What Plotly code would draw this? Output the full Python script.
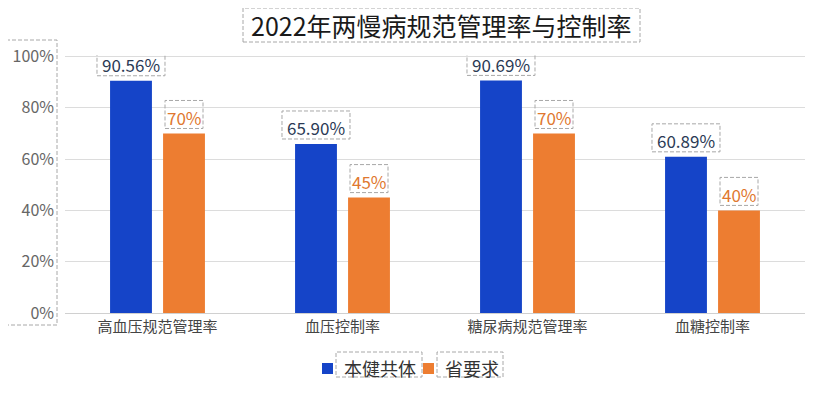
import plotly.graph_objects as go

categories = ["高血压规范管理率", "血压控制率", "糖尿病规范管理率", "血糖控制率"]
series_names = ["本健共体", "省要求"]
values_local = [90.56, 65.90, 90.69, 60.89]
values_req = [70, 45, 70, 40]
labels_local = ["90.56%", "65.90%", "90.69%", "60.89%"]
labels_req = ["70%", "45%", "70%", "40%"]
tick_vals = [0, 20, 40, 60, 80, 100]
tick_text = ["0%", "20%", "40%", "60%", "80%", "100%"]
title_text = "2022年两慢病规范管理率与控制率"

BLUE = "#1544c8"
ORANGE = "#ed7d31"
FONT = "Noto Sans CJK SC"
DASH_COLOR = "#a8a8a8"
DASH = "4px,2px"

fig = go.Figure()
fig.add_trace(go.Bar(x=categories, y=values_local, name=series_names[0],
                     marker=dict(color=BLUE, line=dict(width=0)), showlegend=False))
fig.add_trace(go.Bar(x=categories, y=values_req, name=series_names[1],
                     marker=dict(color=ORANGE, line=dict(width=0)), showlegend=False))

# page offset (default body margin) compensation
PO = 8
W, H = 815, 393
L = 65 - PO
T = 55 - PO
R = W - (805 - PO)
B = H - (313 - PO)
pw, ph = W - L - R, H - T - B
bargap, bargroupgap = 0.427, 0.21
cat_px = pw / len(categories)
off = (1 - bargap) / 4 * cat_px  # center offset of each bar in px

shapes = []
annotations = []

def dashed_box_px(xi, xoff, w, yval, ybot, ytop):
    shapes.append(dict(type="rect", xref="x", yref="y",
                       xsizemode="pixel", ysizemode="pixel",
                       xanchor=xi, yanchor=yval,
                       x0=xoff - w / 2, x1=xoff + w / 2, y0=ybot, y1=ytop,
                       line=dict(color=DASH_COLOR, width=1, dash=DASH),
                       layer="above"))

for i, cat in enumerate(categories):
    for vals, labs, sgn, col in ((values_local, labels_local, -1, "#2b3a55"),
                                 (values_req, labels_req, 1, "#e0782f")):
        txt = labs[i]
        w = 10 * len(txt) + 8
        annotations.append(dict(x=cat, y=vals[i], xref="x", yref="y",
                                text=txt, showarrow=False, xshift=sgn * off,
                                yshift=16, yanchor="middle",
                                font=dict(size=17, color=col, family=FONT)))
        dashed_box_px(i, sgn * off, w, vals[i], 5, 33)
    # x tick label boxes
    tw = 15 * len(cat) + 6
    shapes.append(dict(type="rect", xref="x", yref="y",
                       xsizemode="pixel", ysizemode="pixel",
                       xanchor=i, yanchor=0,
                       x0=-tw / 2, x1=tw / 2, y0=-5, y1=-29,
                       line=dict(color=DASH_COLOR, width=1, dash=DASH)))

def px2paper(x, y):
    # x, y are screen coordinates in the reference picture
    return (x - PO - L) / pw, (H - B - (y - PO)) / ph

def paper_box(a, top, b, bottom):
    x0, y0 = px2paper(a, bottom)
    x1, y1 = px2paper(b, top)
    shapes.append(dict(type="rect", xref="paper", yref="paper", x0=x0, x1=x1, y0=y0, y1=y1,
                       line=dict(color=DASH_COLOR, width=1, dash=DASH)))

# y-axis label box
paper_box(5, 40, 57, 325)
# title box
paper_box(243, 8, 640, 42)
tx, ty = px2paper(441, 25)
annotations.append(dict(x=tx, y=ty, xref="paper", yref="paper", text=title_text,
                        showarrow=False, xanchor="center", yanchor="middle",
                        font=dict(size=25, color="#1a1a1a", family=FONT)))

# manual legend
legend_items = [(series_names[0], BLUE, 322, 342, 336, 422),
                (series_names[1], ORANGE, 423, 443, 437, 503)]
for name, col, sq_x, txt_x, bx0, bx1 in legend_items:
    sx0, sy0 = px2paper(sq_x, 374)
    sx1, sy1 = px2paper(sq_x + 11, 363)
    shapes.append(dict(type="rect", xref="paper", yref="paper", x0=sx0, x1=sx1,
                       y0=sy0, y1=sy1, fillcolor=col, line=dict(width=0)))
    ax, ay = px2paper(txt_x, 368)
    annotations.append(dict(x=ax, y=ay, xref="paper", yref="paper", text=name,
                            showarrow=False, xanchor="left", yanchor="middle",
                            font=dict(size=18, color="#333333", family=FONT)))
    paper_box(bx0, 352, bx1, 377)

fig.update_layout(
    width=W, height=H,
    margin=dict(l=L, r=R, t=T, b=B, autoexpand=False),
    paper_bgcolor="white", plot_bgcolor="white",
    barmode="group", bargap=bargap, bargroupgap=bargroupgap,
    font=dict(family=FONT),
    showlegend=False,
    xaxis=dict(showgrid=False, showline=True, linecolor="#d0d0d0", linewidth=1,
               ticks="", tickfont=dict(size=15, color="#444444", family=FONT)),
    yaxis=dict(range=[0, 100.6], tickvals=tick_vals, ticktext=tick_text,
               showgrid=True, gridcolor="#dcdcdc", gridwidth=1, zeroline=False,
               showline=False, ticks="", ticklabelstandoff=10,
               tickfont=dict(size=16, color="#666666", family=FONT)),
    shapes=shapes,
    annotations=annotations,
)

fig.write_html("out.html")
